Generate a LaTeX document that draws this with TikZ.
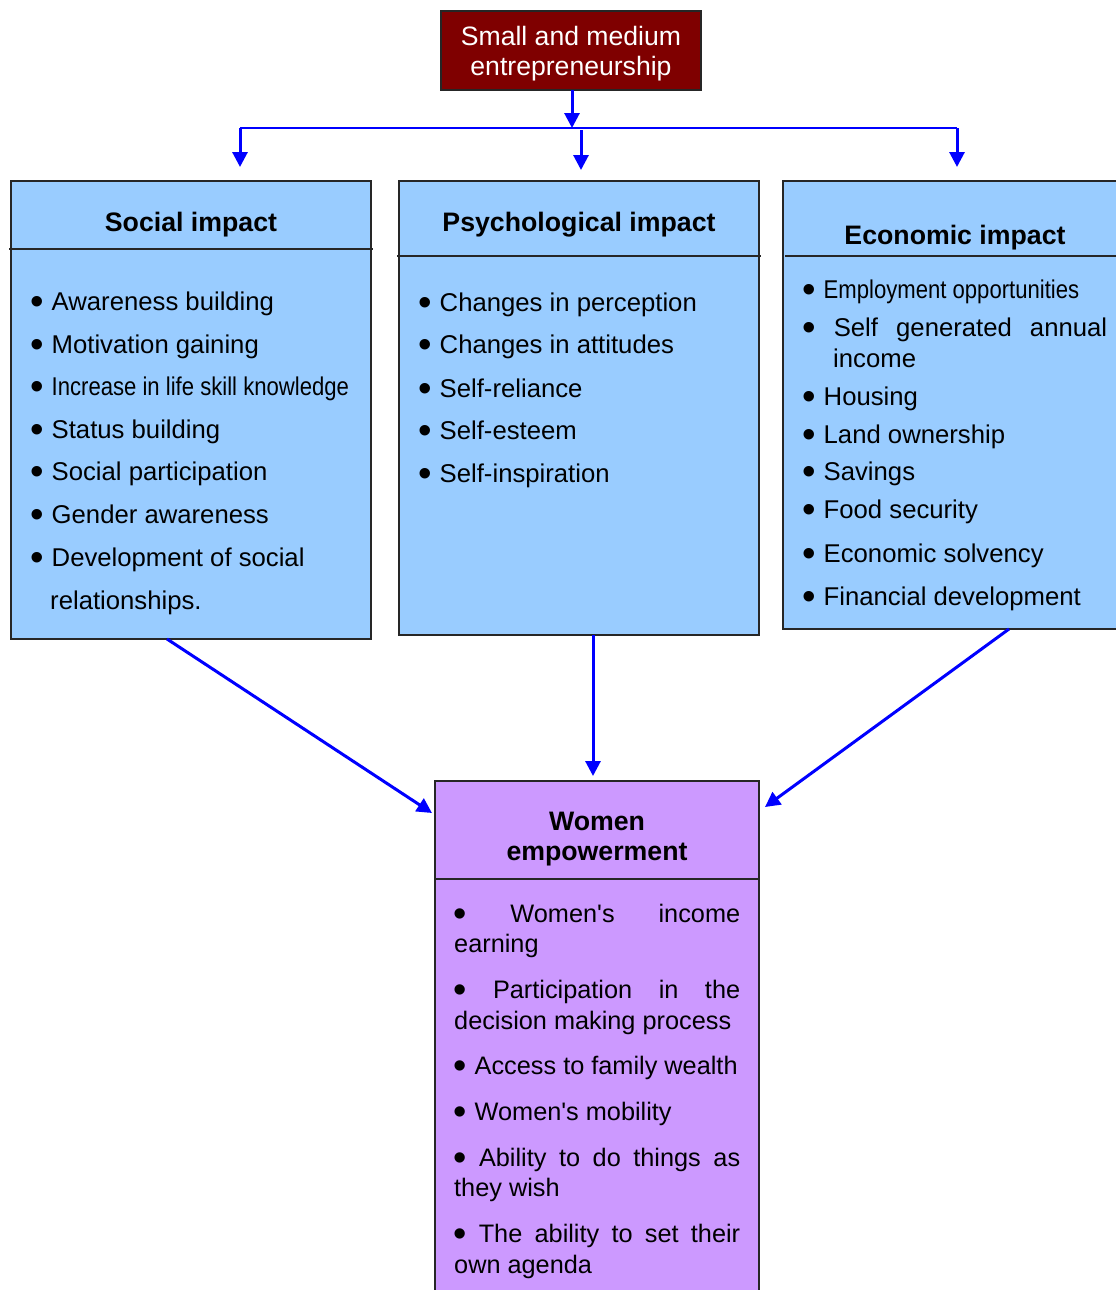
\documentclass[tikz,border=0pt]{standalone}
\usepackage{fontspec}
\setmainfont{Liberation Sans}
\usetikzlibrary{arrows.meta,calc}
\definecolor{topred}{HTML}{7F0000}
\definecolor{lightblue}{HTML}{99CCFF}
\definecolor{lilac}{HTML}{CC99FF}
\newcommand\blt{\raisebox{-4.7pt}{\scalebox{1.5}{•}}}
\newcommand\bul{\makebox[21.5pt][l]{\blt}}
\newcommand\apo{\textquotesingle}
\begin{document}
\begin{tikzpicture}[x=1pt,y=-1pt,
  boxstyle/.style={draw=black!85,line width=1.5pt,rectangle,inner sep=0pt,outer sep=0pt},
  bluebox/.style={boxstyle,fill=lightblue},
  lilacbox/.style={boxstyle,fill=lilac},
  divider/.style={draw=black!85,line width=1.5pt},
  arr/.style={draw=blue,line width=3pt,-{Triangle[length=15pt,width=15pt]}},
  thinblue/.style={draw=blue,line width=2pt},
  txt/.style={font=\fontsize{25.7}{30}\selectfont,inner sep=0pt,anchor=base west},
  wtxt/.style={font=\fontsize{25.3}{30}\selectfont,inner sep=0pt,anchor=base west},
  hd/.style={font=\fontsize{26.7}{30}\selectfont\bfseries,inner sep=0pt,anchor=base},
  toptxt/.style={font=\fontsize{26.6}{30}\selectfont,text=white,inner sep=0pt,anchor=base},
]
\useasboundingbox (0,0) rectangle (1116,1290);
\clip (0,0) rectangle (1116,1290);

% boxes
\node[boxstyle,fill=topred,minimum width=260pt,minimum height=79pt] (top) at (571,50.5) {};
\node[bluebox,minimum width=360pt,minimum height=458pt] (social) at (191,410) {};
\node[bluebox,minimum width=360pt,minimum height=454pt] (psych) at (579,408) {};
\node[bluebox,minimum width=347pt,minimum height=448pt] (econ) at (956.5,405) {};
\node[lilacbox,minimum width=324pt,minimum height=519pt] (women) at (597,1040.5) {};

% dividers
\draw[divider] (9,249) -- (373,249);
\draw[divider] (397,256) -- (761,256);
\draw[divider] (785,256) -- (1116,256);
\draw[divider] (435,879) -- (759,879);

% top box text
\node[toptxt] (t1) at (571,46) {Small and medium};
\node[toptxt] (t2) at (571,76) {entrepreneurship};

% headers
\node[hd] (hs) at (191,231) {Social impact};
\node[hd] (hp) at (579,231) {Psychological impact};
\node[hd] (he) at (955,244) {Economic impact};
\node[hd] (hw1) at (597,830) {Women};
\node[hd] (hw2) at (597,860) {empowerment};

% social items
\node[txt] (s1) at (30,310) {\bul Awareness building};
\node[txt] (s2) at (30,353) {\bul Motivation gaining};
\node[txt] (s3) at (30,395) {\bul\scalebox{0.86}[1]{Increase in life skill knowledge}};
\node[txt] (s4) at (30,438) {\bul Status building};
\node[txt] (s5) at (30,480) {\bul Social participation};
\node[txt] (s6) at (30,523) {\bul Gender awareness};
\node[txt] (s7) at (30,566) {\bul Development of social};
\node[txt] (s8) at (50,609) {relationships.};

% psychological items
\node[txt] (p1) at (418,311) {\bul Changes in perception};
\node[txt] (p2) at (418,353) {\bul Changes in attitudes};
\node[txt] (p3) at (418,397) {\bul Self-reliance};
\node[txt] (p4) at (418,439) {\bul Self-esteem};
\node[txt] (p5) at (418,482) {\bul Self-inspiration};

% economic items
\node[txt] (e1) at (802,298) {\bul\scalebox{0.86}[1]{Employment opportunities}};
\node[txt] (e2) at (802,336) {\makebox[305pt][s]{\blt\ Self generated annual}};
\node[txt] (e3) at (833,367) {income};
\node[txt] (e4) at (802,405) {\bul Housing};
\node[txt] (e5) at (802,443) {\bul Land ownership};
\node[txt] (e6) at (802,480) {\bul Savings};
\node[txt] (e7) at (802,518) {\bul Food security};
\node[txt] (e8) at (802,562) {\bul Economic solvency};
\node[txt] (e9) at (802,605) {\bul Financial development};

% women items
\node[wtxt] (w1) at (453,922) {\makebox[287pt][s]{\blt\ Women\apo s\ income}};
\node[wtxt] (w2) at (454,952) {earning};
\node[wtxt] (w3) at (453,998) {\makebox[287pt][s]{\blt\ Participation\ in\ the}};
\node[wtxt] (w4) at (454,1029) {decision making process};
\node[wtxt] (w5) at (453,1074) {\bul Access to family wealth};
\node[wtxt] (w6) at (453,1120) {\bul Women\apo s mobility};
\node[wtxt] (w7) at (453,1166) {\makebox[287pt][s]{\blt\ Ability to do things as}};
\node[wtxt] (w8) at (454,1196) {they wish};
\node[wtxt] (w9) at (453,1242) {\makebox[287pt][s]{\blt\ The ability to set their}};
\node[wtxt] (w10) at (454,1273) {own agenda};

% connectors
\coordinate (bar) at (572,128);
\coordinate (barL) at (240,128);
\coordinate (barR) at (957,128);
\coordinate (endL) at (240,167);
\coordinate (midS) at (581,130);
\coordinate (endM) at (581,170);
\coordinate (endR) at (957,167);
\draw[thinblue] (barL) -- (barR);
\draw[arr] ([xshift=1pt]top.south) -- (bar);
\draw[arr] (barL) -- (endL);
\draw[arr] (midS) -- (endM);
\draw[arr] (barR) -- (endR);

\draw[arr] ([xshift=156pt]social.south west) -- ([xshift=-3pt,yshift=-32pt]women.north west);
\draw[arr] ([xshift=14pt]psych.south) -- ([xshift=-4pt,yshift=5pt]women.north);
\draw[arr] ([xshift=226pt]econ.south west) -- ([xshift=6pt,yshift=-26pt]women.north east);
\end{tikzpicture}
\end{document}
